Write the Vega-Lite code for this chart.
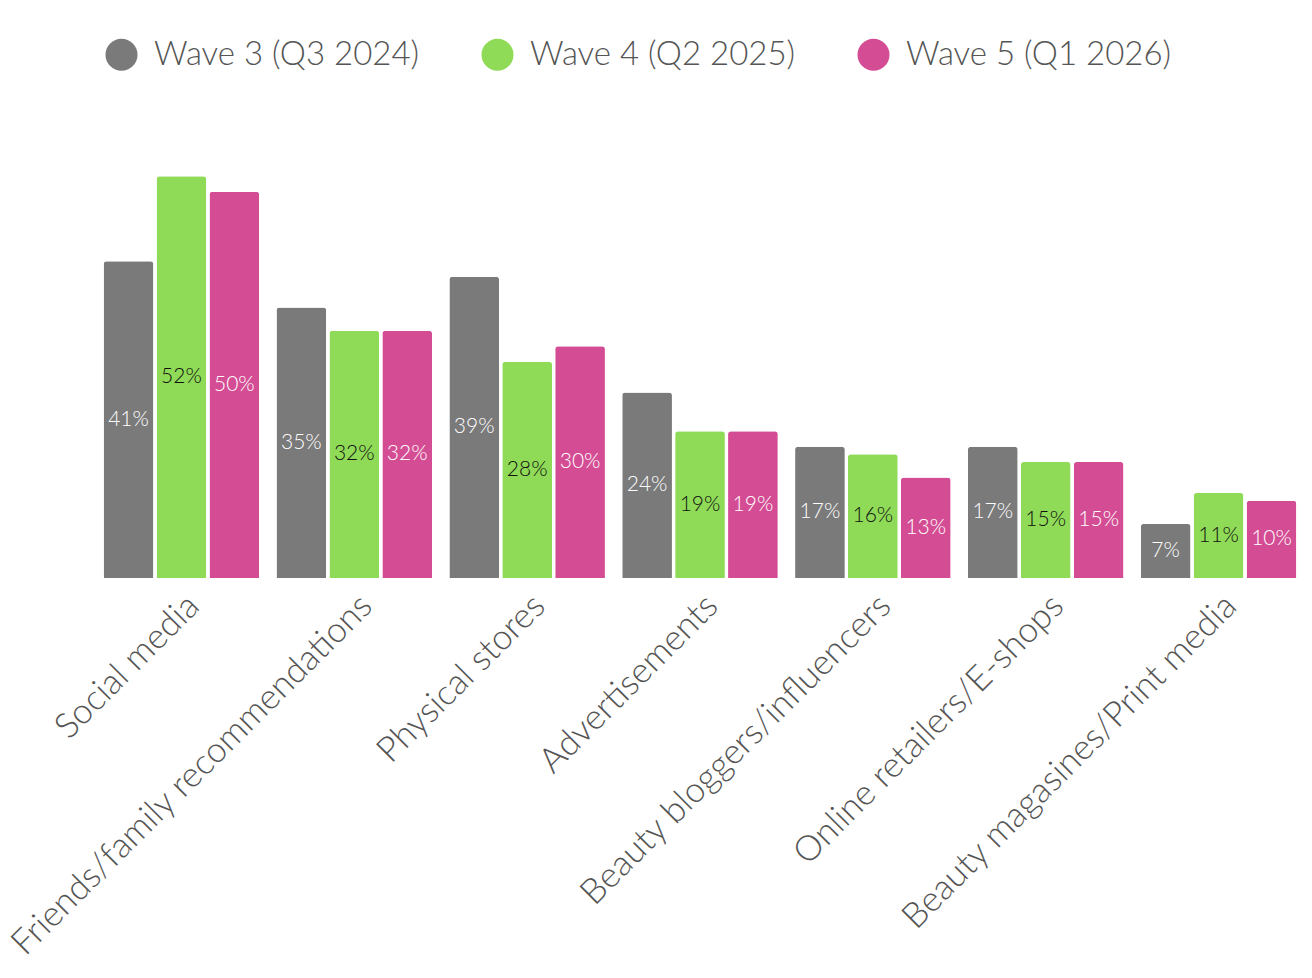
{
  "$schema": "https://vega.github.io/schema/vega-lite/v6.json",
  "description": "Grouped bars of information sources by survey wave",
  "width": 1210,
  "height": 425,
  "autosize": {"type": "none"},
  "padding": {"left": 95, "top": 153, "right": 7, "bottom": 400},
  "background": "white",
  "config": {
    "font": "Lato",
    "view": {"stroke": null}
  },
  "data": {
    "values": [
      {"source": "Social media", "wave": "Wave 3 (Q3 2024)", "share": 0.41},
      {"source": "Social media", "wave": "Wave 4 (Q2 2025)", "share": 0.52},
      {"source": "Social media", "wave": "Wave 5 (Q1 2026)", "share": 0.50},
      {"source": "Friends/family recommendations", "wave": "Wave 3 (Q3 2024)", "share": 0.35},
      {"source": "Friends/family recommendations", "wave": "Wave 4 (Q2 2025)", "share": 0.32},
      {"source": "Friends/family recommendations", "wave": "Wave 5 (Q1 2026)", "share": 0.32},
      {"source": "Physical stores", "wave": "Wave 3 (Q3 2024)", "share": 0.39},
      {"source": "Physical stores", "wave": "Wave 4 (Q2 2025)", "share": 0.28},
      {"source": "Physical stores", "wave": "Wave 5 (Q1 2026)", "share": 0.30},
      {"source": "Advertisements", "wave": "Wave 3 (Q3 2024)", "share": 0.24},
      {"source": "Advertisements", "wave": "Wave 4 (Q2 2025)", "share": 0.19},
      {"source": "Advertisements", "wave": "Wave 5 (Q1 2026)", "share": 0.19},
      {"source": "Beauty bloggers/influencers", "wave": "Wave 3 (Q3 2024)", "share": 0.17},
      {"source": "Beauty bloggers/influencers", "wave": "Wave 4 (Q2 2025)", "share": 0.16},
      {"source": "Beauty bloggers/influencers", "wave": "Wave 5 (Q1 2026)", "share": 0.13},
      {"source": "Online retailers/E-shops", "wave": "Wave 3 (Q3 2024)", "share": 0.17},
      {"source": "Online retailers/E-shops", "wave": "Wave 4 (Q2 2025)", "share": 0.15},
      {"source": "Online retailers/E-shops", "wave": "Wave 5 (Q1 2026)", "share": 0.15},
      {"source": "Beauty magasines/Print media", "wave": "Wave 3 (Q3 2024)", "share": 0.07},
      {"source": "Beauty magasines/Print media", "wave": "Wave 4 (Q2 2025)", "share": 0.11},
      {"source": "Beauty magasines/Print media", "wave": "Wave 5 (Q1 2026)", "share": 0.10}
    ]
  },
  "encoding": {
    "x": {
      "field": "source",
      "type": "nominal",
      "sort": null,
      "title": null,
      "scale": {"paddingInner": 0.1, "paddingOuter": 0.05},
      "axis": {
        "labelAngle": -45,
        "labelFontSize": 35,
        "labelFontWeight": 300,
        "labelColor": "#555555",
        "labelPadding": 10,
        "labelLimit": 700,
        "domain": false,
        "ticks": false,
        "grid": false
      }
    },
    "xOffset": {
      "field": "wave",
      "type": "nominal",
      "scale": {"paddingInner": 0.06}
    }
  },
  "layer": [
    {
      "mark": {"type": "bar", "cornerRadiusTopLeft": 3, "cornerRadiusTopRight": 3},
      "encoding": {
        "y": {
          "field": "share",
          "type": "quantitative",
          "scale": {"domain": [0, 0.55], "nice": false},
          "axis": null
        },
        "color": {
          "field": "wave",
          "type": "nominal",
          "title": null,
          "scale": {
            "domain": ["Wave 3 (Q3 2024)", "Wave 4 (Q2 2025)", "Wave 5 (Q1 2026)"],
            "range": ["#7a7a7a", "#8fdb57", "#d44d94"]
          },
          "legend": {
            "orient": "none",
            "legendX": 10,
            "legendY": -115,
            "direction": "horizontal",
            "symbolType": "circle",
            "symbolSize": 1024,
            "symbolStrokeWidth": 0,
            "labelFontSize": 33,
            "labelFontWeight": 300,
            "labelColor": "#555555",
            "labelLimit": 400,
            "labelOffset": 16,
            "columnPadding": 61
          }
        }
      }
    },
    {
      "mark": {"type": "text", "fontSize": 21, "fontWeight": 300, "baseline": "middle"},
      "encoding": {
        "y": {
          "field": "share",
          "type": "quantitative",
          "scale": {"domain": [0, 1.1], "nice": false},
          "axis": null
        },
        "text": {"field": "share", "type": "quantitative", "format": ".0%"},
        "color": {
          "condition": {"test": "datum.wave === 'Wave 4 (Q2 2025)'", "value": "#111111"},
          "value": "#ffffff"
        }
      }
    }
  ],
  "resolve": {"scale": {"y": "independent"}}
}
